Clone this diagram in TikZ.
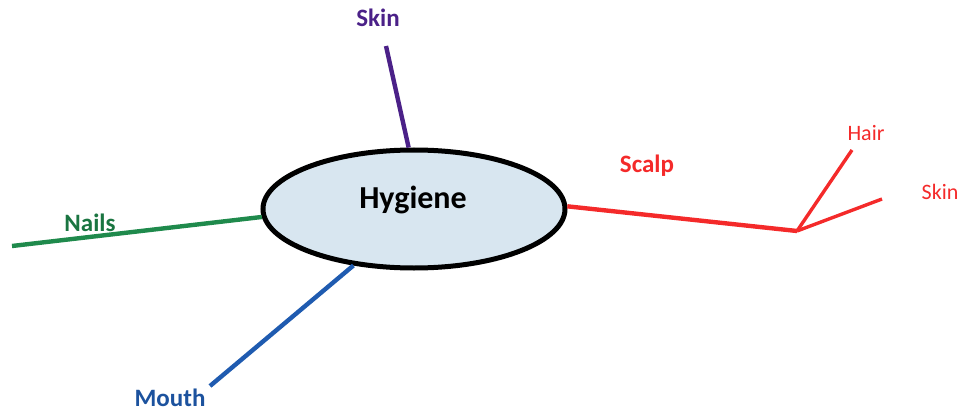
\documentclass[tikz,border=0pt]{standalone}
\usepackage{fontspec}
\setmainfont{Carlito}
\usetikzlibrary{shapes.geometric}
\definecolor{skinpurple}{HTML}{4B2188}
\definecolor{nailgreen}{HTML}{1F8A4C}
\definecolor{mouthblue}{HTML}{1F5BB0}
\definecolor{scalpred}{HTML}{F42A2A}
\definecolor{hygfill}{HTML}{D8E6F0}

\begin{document}
\begin{tikzpicture}[x=0.5pt, y=-0.5pt,
  branch/.style={line width=2.2pt},
  twig/.style={line width=1.7pt, scalpred},
  lbl/.style={font=\fontsize{12.5}{14}\selectfont\bfseries, inner sep=0pt},
  sublbl/.style={font=\fontsize{11}{13}\selectfont, scalpred, inner sep=0pt}]
  \useasboundingbox (0,0) rectangle (969,417);
  \node[ellipse, draw, line width=2.5pt, fill=hygfill, minimum width=151pt, minimum height=59pt, inner sep=0pt] (hyg) at (414,209) {};
  \node[inner sep=0pt, font=\fontsize{16}{18}\selectfont\bfseries] (hygtxt) at (413,200) {Hygiene};
  % labels
  \node[lbl, skinpurple] (skin) at (378,18) {Skin};
  \node[lbl, nailgreen!85!black] (nails) at (90,223) {Nails};
  \node[lbl, mouthblue!90!black] (mouth) at (170,398) {Mouth};
  \node[lbl, scalpred] (scalp) at (647,166) {Scalp};
  \node[sublbl] (hair) at (866,133) {Hair};
  \node[sublbl] (skintwo) at (940,192) {Skin};
  % free ends
  \coordinate (skinend) at (386,46);
  \coordinate (nailend) at (12,246);
  \coordinate (mouthend) at (210,386);
  \coordinate (fork) at (797,231);
  \coordinate (hairend) at (852,150);
  \coordinate (skintwoend) at (882,199);
  % branches
  \draw[branch, skinpurple] (hyg.95) -- (skinend);
  \draw[branch, nailgreen] (hyg.183) -- (nailend);
  \draw[branch, mouthblue] (hyg.223) -- (mouthend);
  \draw[branch, scalpred] (hyg.1.5) -- (fork);
  \draw[twig] (fork) -- (hairend);
  \draw[twig] (fork) -- (skintwoend);
\end{tikzpicture}
\end{document}
